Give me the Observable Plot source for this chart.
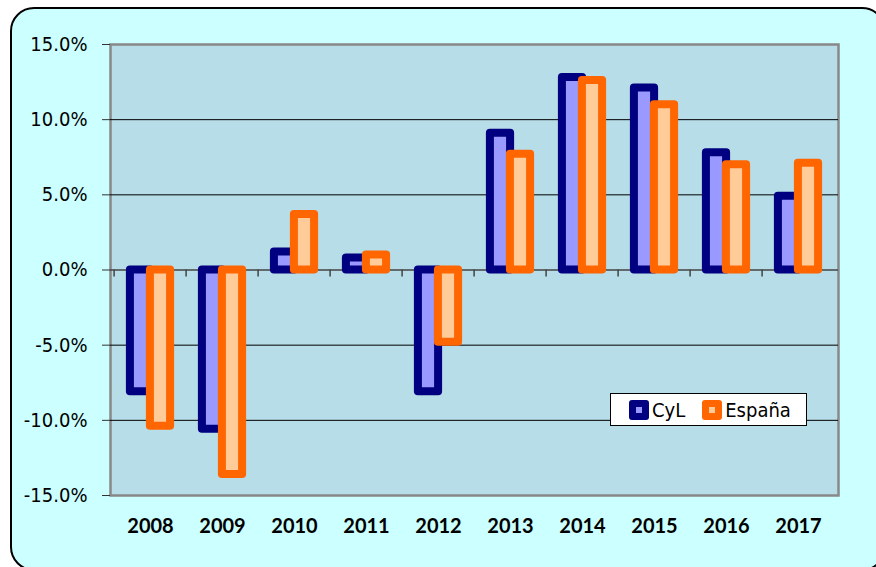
<!DOCTYPE html>
<html>
<head>
<meta charset="utf-8">
<script src="https://cdn.jsdelivr.net/npm/d3@7"></script>
<script src="https://cdn.jsdelivr.net/npm/@observablehq/plot@0.6"></script>
<style>
  html, body { margin: 0; padding: 0; background: #fff; overflow: hidden; }
  #wrap { position: relative; width: 876px; height: 567px; overflow: hidden; }
  #frame { position: absolute; left: 10px; top: 7px; width: 872px; height: 560px;
           background: #CCFFFF; border: 2px solid #000; border-radius: 24px; }
  #chart { position: absolute; left: 0; top: 0; }
  #legend { position: absolute; left: 610px; top: 393px; width: 195px; height: 31px;
            background: #fff; border: 1px solid #000; display: flex; align-items: center;
            font-family: "DejaVu Sans Condensed", "DejaVu Sans", sans-serif; font-size: 20px; color: #000; }
  .item { display: flex; align-items: center; }
  .sw { width: 6px; height: 6px; border-radius: 3px; border: 7px solid; margin-right: 3px; }
</style>
</head>
<body>
<div id="wrap">
  <div id="frame"></div>
  <div id="chart"></div>
  <div id="legend">
    <div class="item" style="margin-left:18px"><div class="sw" style="border-color:#000080;background:#9999FF"></div>CyL</div>
    <div class="item" style="margin-left:17px"><div class="sw" style="border-color:#FF6600;background:#FFCC99"></div>España</div>
  </div>
</div>
<script>
const years = ["2008","2009","2010","2011","2012","2013","2014","2015","2016","2017"];
const cylValues = [-8.1, -10.6, 1.2, 0.8, -8.1, 9.1, 12.8, 12.1, 7.8, 4.9];
const espValues = [-10.4, -13.6, 3.7, 1.0, -4.8, 7.7, 12.6, 11.0, 7.0, 7.1];
const yTicks = [-15, -10, -5, 0, 5, 10, 15];
const seriesNames = ["CyL", "España"];

const cyl = years.map((y, i) => ({year: y, value: cylValues[i], serie: seriesNames[0]}));
const esp = years.map((y, i) => ({year: y, value: espValues[i], serie: seriesNames[1]}));

const W = 876, H = 567, ML = 110, MR = 38, MT = 44, MB = 72;
const bw = (W - ML - MR) / years.length;
const half = bw / 2;

const chart = Plot.plot({
  width: W, height: H,
  marginLeft: ML, marginRight: MR, marginTop: MT, marginBottom: MB,
  style: {background: "transparent", overflow: "visible"},
  x: {type: "band", domain: years, padding: 0, label: null},
  y: {domain: [-15, 15], label: null},
  marks: [
    Plot.frame({fill: "#B7DDE8", stroke: "#888", strokeWidth: 2.5}),
    Plot.ruleY(yTicks.filter(d => Math.abs(d) !== 15 && d !== 0), {stroke: "#000", strokeWidth: 1}),
    Plot.ruleX([0], {x: () => null, frameAnchor: "left", stroke: "#333", strokeWidth: 1.5}),
    Plot.ruleY([0], {stroke: "#444", strokeWidth: 1.5}),
    Plot.ruleX(years, {x: d => d, y1: 0, y2: -7/15, dx: -half, stroke: "#444", strokeWidth: 1.5}),
    Plot.barY(cyl, {x: "year", y: "value", insetLeft: half - 20.5, insetRight: half - 0.5,
      fill: "#9999FF", stroke: "#000080", strokeWidth: 8, strokeLinejoin: "round"}),
    Plot.barY(esp, {x: "year", y: "value", insetLeft: half - 0.5, insetRight: half - 20.5,
      fill: "#FFCC99", stroke: "#FF6600", strokeWidth: 8, strokeLinejoin: "round"}),
    Plot.axisY(yTicks, {tickSize: 8, tickPadding: 15, stroke: "#333",
      tickFormat: d => d.toFixed(1) + "%", fontSize: 20,
      fontFamily: "DejaVu Sans Condensed, DejaVu Sans, sans-serif", fill: "#000"}),
    Plot.axisX(years, {tickSize: 0, tickPadding: 23, fontSize: 20, fontWeight: "bold",
      fontFamily: "Lato, sans-serif", fill: "#000"})
  ]
});
document.getElementById("chart").appendChild(chart);
</script>
</body>
</html>
